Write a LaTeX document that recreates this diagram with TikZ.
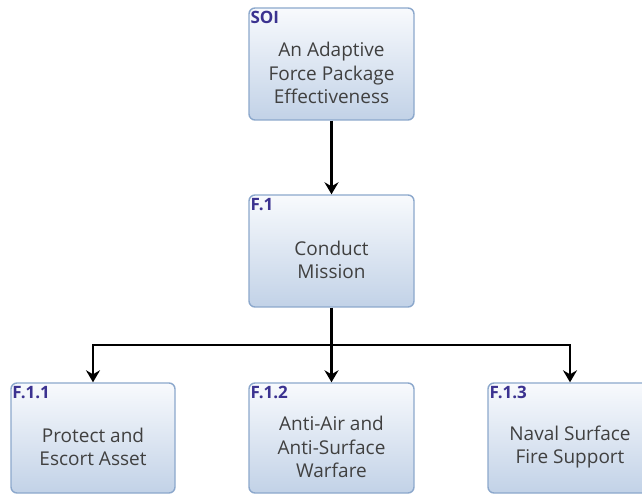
\documentclass[tikz,border=0pt]{standalone}
\usepackage{fontspec}
\setmainfont{Open Sans}
\usetikzlibrary{arrows.meta}
\definecolor{boxborder}{HTML}{8CA8CC}
\definecolor{boxtop}{HTML}{F8FAFD}
\definecolor{boxbot}{HTML}{C2D2E7}
\definecolor{lbl}{HTML}{3B3290}
\definecolor{txt}{HTML}{404040}
\tikzset{
  fbox/.style={draw=boxborder, line width=1.4pt, rounded corners=6pt,
    top color=boxtop, bottom color=boxbot, minimum width=165pt, inner sep=0pt},
  ftext/.style={align=center, text=txt, font=\fontsize{19}{23.5}\selectfont, inner sep=0pt},
  flabel/.style={anchor=base west, text=lbl, font=\fontsize{17}{18}\selectfont\bfseries, inner sep=0pt},
  conn/.style={line width=2.3pt, draw=black},
  arr/.style={conn, -{Stealth[length=12pt,width=14pt,inset=4pt]}}
}
\begin{document}
\begin{tikzpicture}[x=1pt,y=1pt]
\clip (0,0) rectangle (642,495);
\fill[white] (0,0) rectangle (642,495);
% boxes
\node[fbox, minimum height=112pt] (soi) at (331.5,431) {};
\node[fbox, minimum height=112pt] (f1) at (331.5,244) {};
\node[fbox, minimum height=110pt, minimum width=164pt] (f11) at (93,57) {};
\node[fbox, minimum height=110pt] (f12) at (331.5,57) {};
\node[fbox, minimum height=110pt, minimum width=164pt] (f13) at (570,57) {};
% labels
\node[flabel] (soil) at ([xshift=2pt,yshift=-16pt]soi.north west) {SOI};
\node[flabel] (f1l) at ([xshift=2pt,yshift=-16pt]f1.north west) {F.1};
\node[flabel] (f11l) at ([xshift=2pt,yshift=-16pt]f11.north west) {F.1.1};
\node[flabel] (f12l) at ([xshift=2pt,yshift=-16pt]f12.north west) {F.1.2};
\node[flabel] (f13l) at ([xshift=2pt,yshift=-16pt]f13.north west) {F.1.3};
% texts
\node[ftext] (soit) at ([yshift=-9pt]soi.center) {An Adaptive\\Force Package\\Effectiveness};
\node[ftext] (f1t) at ([yshift=-9pt]f1.center) {Conduct\\Mission};
\node[ftext] (f11t) at ([yshift=-9pt]f11.center) {Protect and\\Escort Asset};
\node[ftext] (f12t) at ([yshift=-9pt]f12.center) {Anti-Air and\\Anti-Surface\\Warfare};
\node[ftext] (f13t) at ([yshift=-9pt]f13.center) {Naval Surface\\Fire Support};
% connectors
\coordinate (j) at (331.5,150);
\draw[arr] (soi.south) -- (f1.north);
\draw[conn] (f1.south) -- (j);
\draw[arr] (j) -| (f11.north);
\draw[arr] (j) -| (f13.north);
\draw[arr] (j) -- (f12.north);
\end{tikzpicture}
\end{document}
